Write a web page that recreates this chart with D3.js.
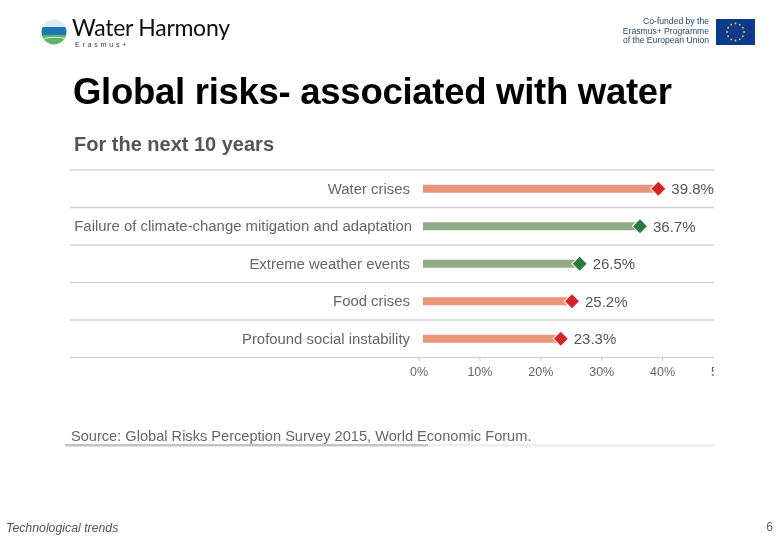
<!DOCTYPE html>
<html><head><meta charset="utf-8">
<script src="https://cdn.jsdelivr.net/npm/d3@7"></script>
<style>html,body{margin:0;padding:0;background:#fff}svg{display:block}text{font-family:"Liberation Sans",Arial,sans-serif}</style>
</head><body><svg id="c" width="780" height="540"></svg>
<script>
const categories=["Water crises","Failure of climate-change mitigation and adaptation","Extreme weather events","Food crises","Profound social instability"];
const values=[39.8,36.7,26.5,25.2,23.3];
const groups=["soc","env","env","soc","soc"];
const axisTicks=[0,10,20,30,40,50];
const barColor={soc:"#e8957a",env:"#92ab86"};
const markColor={soc:"#d8232a",env:"#2b7a3e"};

const svg=d3.select("#c");
const defs=svg.append("defs");
defs.append("clipPath").attr("id","clip").append("rect").attr("x",60).attr("y",350).attr("width",654).attr("height",40);
const blur=defs.append("filter").attr("id","soft").attr("x","-5%").attr("y","-20%").attr("width","110%").attr("height","140%");
blur.append("feGaussianBlur").attr("stdDeviation",0.35);

const axisX=d3.scaleLinear().domain([0,50]).range([418.5,723]);
const markX=d3.scaleLinear().domain([0,40]).range([423,659.5]);
const y=d3.scaleBand().domain(categories).range([170,357.5]);
const mid=d=>y(d)+y.bandwidth()/2;

const chart=svg.append("g").attr("filter","url(#soft)");
// grid lines
const edges=categories.map(c=>y(c)).concat([357.5]);
chart.selectAll("line.grid").data(edges).join("line").attr("class","grid")
 .attr("x1",70).attr("x2",714).attr("y1",d=>d).attr("y2",d=>d)
 .attr("stroke","#d4d4d6").attr("stroke-width",1.3);
// axis
const axClip=chart.append("g").attr("clip-path","url(#clip)");
const axG=axClip.append("g").attr("transform","translate(0,357.5)");
const axis=d3.axisBottom(axisX).tickValues(axisTicks).tickFormat(d=>d+"%").tickSize(4).tickPadding(5.5);
axG.call(axis);
axG.select(".domain").remove();
axG.selectAll("line").attr("stroke","#d0d0d0");
axG.selectAll("text").attr("fill","#666").attr("font-size",12.5).attr("font-family",'"Liberation Sans",Arial,sans-serif');
// bars
chart.selectAll("rect.bar").data(categories).join("rect").attr("class","bar")
 .attr("x",markX(0)).attr("y",d=>mid(d)-4).attr("height",8)
 .attr("width",(d,i)=>markX(values[i])-markX(0)).attr("fill",(d,i)=>barColor[groups[i]]);
// diamonds
const sym=d3.symbol().type(d3.symbolSquare).size(118);
chart.selectAll("path.halo").data(categories).join("path").attr("class","halo")
 .attr("d",sym).attr("transform",(d,i)=>`translate(${markX(values[i])},${mid(d)}) rotate(45)`)
 .attr("fill",(d,i)=>markColor[groups[i]]).attr("stroke","#fff").attr("stroke-width",1);
// values
chart.selectAll("text.val").data(categories).join("text").attr("class","val")
 .attr("x",(d,i)=>markX(values[i])+13).attr("y",d=>mid(d)+5.5)
 .attr("font-size",15).attr("fill","#555").text((d,i)=>values[i].toFixed(1)+"%");
// category labels
chart.selectAll("text.cat").data(categories).join("text").attr("class","cat")
 .attr("x",(d,i)=>i==1?412:410).attr("y",d=>mid(d)+5).attr("text-anchor","end")
 .attr("font-size",14.9).attr("fill","#666").text(d=>d);

// slide text
svg.append("text").attr("x",73).attr("y",104).attr("font-size",36.5).attr("font-weight","bold").attr("fill","#000").attr("textLength",599).text("Global risks- associated with water");
chart.append("text").attr("x",74).attr("y",151).attr("font-size",20).attr("font-weight","bold").attr("fill","#555").attr("textLength",200).text("For the next 10 years");
chart.append("text").attr("x",71).attr("y",441).attr("font-size",14.6).attr("fill","#666").text("Source: Global Risks Perception Survey 2015, World Economic Forum.");
svg.append("rect").attr("x",65).attr("y",444).attr("width",363).attr("height",2.5).attr("fill","#c4c4c4");
svg.append("rect").attr("x",428).attr("y",444).attr("width",286).attr("height",2.5).attr("fill","#eee");
svg.append("text").attr("x",6).attr("y",532).attr("font-size",12.3).attr("font-style","italic").attr("fill","#555").text("Technological trends");
svg.append("text").attr("x",773).attr("y",531).attr("font-size",12).attr("text-anchor","end").attr("fill","#666").text("6");

// left logo
const logo=svg.append("g").attr("filter","url(#soft)");
logo.append("clipPath").attr("id","globe").append("circle").attr("cx",54).attr("cy",32).attr("r",12.5);
const g=logo.append("g").attr("clip-path","url(#globe)");
g.append("rect").attr("x",40).attr("y",19).attr("width",28).attr("height",10).attr("fill","#dcebf2");
g.append("rect").attr("x",40).attr("y",27).attr("width",28).attr("height",9).attr("fill","#1d78b0");
g.append("rect").attr("x",40).attr("y",35).attr("width",28).attr("height",11).attr("fill","#5db56a");
g.append("path").attr("d","M40 40 Q52 35 68 39").attr("fill","none").attr("stroke","#dff0df").attr("stroke-width",1);
logo.append("text").attr("x",72).attr("y",35.5).style("font-family","Lato").attr("font-size",23).attr("fill","#111").attr("textLength",158).text("Water Harmony");
logo.append("text").attr("x",75).attr("y",46.5).attr("font-size",7.2).attr("fill","#444").attr("letter-spacing",2.7).text("Erasmus+");

// right logo
const cof=["Co-funded by the","Erasmus+ Programme","of the European Union"];
const right=svg.append("g").attr("filter","url(#soft)");
right.selectAll("text.cof").data(cof).join("text").attr("class","cof")
 .attr("x",709).attr("y",(d,i)=>24+i*9.5).attr("text-anchor","end").attr("font-size",8.6).attr("fill","#27476e").text(d=>d);
right.append("rect").attr("x",716).attr("y",19).attr("width",39).attr("height",26).attr("fill","#103a8c");
const stars=d3.range(12);
right.selectAll("circle.star").data(stars).join("circle").attr("class","star")
 .attr("cx",d=>735.5+8.5*Math.cos(d*Math.PI/6)).attr("cy",d=>32+8.5*Math.sin(d*Math.PI/6))
 .attr("r",0.9).attr("fill","#f3d21b");
</script></body></html>
